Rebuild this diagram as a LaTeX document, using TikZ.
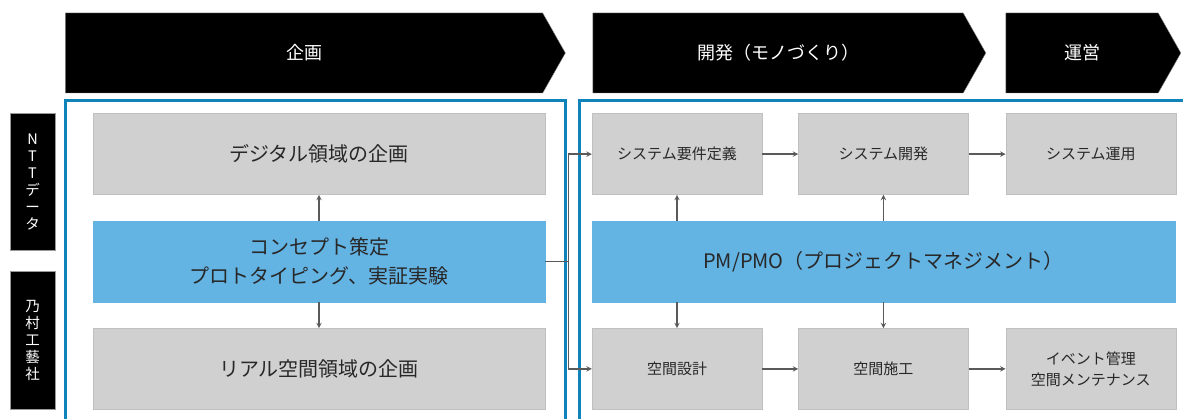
\documentclass[tikz,border=0pt]{standalone}
\usepackage{fontspec}
\setmainfont{Noto Sans CJK JP}
\usepackage{tikz}
\usetikzlibrary{arrows,shapes,shapes.symbols,positioning}

\definecolor{boxgray}{RGB}{208,208,208}
\definecolor{boxedge}{RGB}{192,192,192}
\definecolor{boxtext}{RGB}{40,40,40}
\definecolor{leadblue}{RGB}{99,179,227}
\definecolor{frameblue}{RGB}{16,131,186}
\definecolor{linkgray}{RGB}{90,90,90}

\begin{document}
\begin{tikzpicture}[x=1pt,y=1pt]
% STYLES
\tikzset{%
    phase/.style={%
        signal,signal to=east,signal pointer angle=121,
        fill=black,draw=black!50,text=white,minimum height=80pt,
        inner sep=0pt,font=\fontsize{18}{21}\selectfont
    },
    company/.style={%
        rectangle,fill=black,draw=black!40,text=white,align=center,
        minimum width=45pt,inner sep=0pt,font=\fontsize{14.5}{17}\selectfont
    },
    task/.style={%
        rectangle,fill=boxgray,draw=boxedge,text=boxtext,align=center,
        minimum height=81pt,inner sep=0pt
    },
    bigtask/.style={task,minimum width=452pt,font=\fontsize{20}{29}\selectfont},
    smalltask/.style={task,minimum width=170pt,font=\fontsize{15}{21}\selectfont},
    lead/.style={bigtask,fill=leadblue,draw=leadblue},
    frame/.style={draw=frameblue,line width=3pt},
    link/.style={color=linkgray,line width=1.4pt,>=stealth}
}
\useasboundingbox (0,0) rectangle (1183,418);
% Draw phases
\node[phase,minimum width=500pt] (plan) at (304,365) {企画};
\node[phase,minimum width=393pt] (build) at (778,365) {開発（モノづくり）};
\node[phase,minimum width=175pt] (run) at (1082,365) {運営};
% Draw companies
\node[company,minimum height=137pt] (ntt) at (32.5,236) {N\\T\\T\\デ\\ー\\タ};
\node[company,minimum height=138pt] (nomura) at (32.5,78) {乃\\村\\工\\藝\\社};
% Draw frames
\draw[frame] (65,317) rectangle (565,-10);
\draw[frame] (579,317) rectangle (1200,-10);
% Draw planning tasks
\node[lead] (concept) at (319,156.5) {コンセプト策定\\プロトタイピング、実証実験};
\node[bigtask,above=26pt of concept] (digital) {デジタル領域の企画};
\node[bigtask,below=26pt of concept] (real) {リアル空間領域の企画};
% Draw development and operation tasks
\node[lead,minimum width=583pt] (pm) at (883.5,156.5) {PM/PMO（プロジェクトマネジメント）};
\node[smalltask,above right=26pt and 0pt of pm.north west] (sysreq) {システム要件定義};
\node[smalltask,right=36pt of sysreq] (sysdev) {システム開発};
\node[smalltask,right=37pt of sysdev] (sysops) {システム運用};
\node[smalltask,below right=26pt and 0pt of pm.south west] (spdesign) {空間設計};
\node[smalltask,right=36pt of spdesign] (spbuild) {空間施工};
\node[smalltask,right=37pt of spbuild] (events) {イベント管理\\空間メンテナンス};
% Draw the links between tasks
\path[link,->]
    (concept) edge (digital)
    (concept) edge (real)
    (sysreq) edge (sysdev)
    (sysdev) edge (sysops)
    (spdesign) edge (spbuild)
    (spbuild) edge (events)
    (pm.north -| sysreq.south) edge (sysreq.south)
    (pm.north -| sysdev.south) edge (sysdev.south)
    (pm.south -| spdesign.north) edge (spdesign.north)
    (pm.south -| spbuild.north) edge (spbuild.north);
\coordinate[right=23pt of concept.east] (split);
\draw[link] (concept.east) -- (split);
\draw[link,->] (split) |- (sysreq.west);
\draw[link,->] (split) |- (spdesign.west);
\end{tikzpicture}
\end{document}
